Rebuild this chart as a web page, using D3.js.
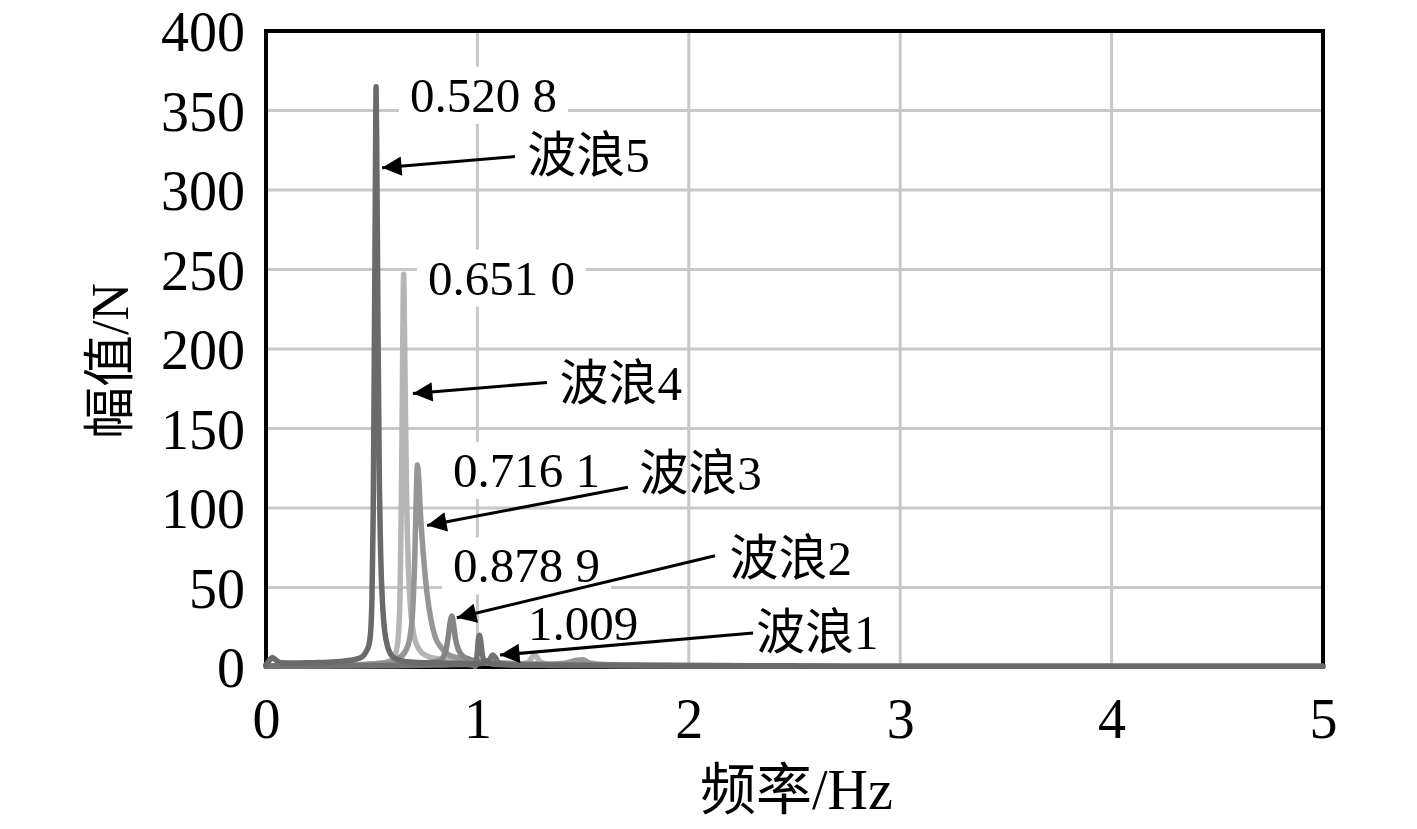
<!DOCTYPE html>
<html>
<head>
<meta charset="utf-8">
<script src="https://cdn.jsdelivr.net/npm/d3@7"></script>
<style>
  html, body { margin: 0; padding: 0; background: #fff; }
  svg { display: block; }
  text { font-family: "Liberation Serif", "Noto Sans CJK SC", serif; fill: #000; }
</style>
</head>
<body>
<svg id="chart" width="1417" height="829"></svg>
<script>
// ---------- data ----------
const xTicks = [0, 1, 2, 3, 4, 5];
const yTicks = [0, 50, 100, 150, 200, 250, 300, 350, 400];
const xTitle = "频率/Hz";
const yTitle = "幅值/N";

// wave 5 (peak 0.5208 Hz)
const wave5F = [0, 0.015, 0.03, 0.05, 0.07, 0.1, 0.15, 0.2, 0.25, 0.3, 0.35, 0.4, 0.44, 0.46, 0.475, 0.487, 0.495, 0.501, 0.507, 0.512, 0.517, 0.5208, 0.525, 0.53, 0.536, 0.543, 0.552, 0.562, 0.575, 0.59, 0.61, 0.64, 0.7, 0.8, 0.9, 1.0, 1.03, 1.045, 1.06, 1.1, 1.2, 1.4, 1.6, 1.8, 2.0, 2.5, 3.0, 3.5, 4.0, 4.5, 5.0];
const wave5A = [1.5, 4, 6, 4, 2.6, 2.5, 2.5, 2.6, 2.8, 3.0, 3.4, 4.2, 5.5, 7, 10, 14, 22, 42, 95, 190, 295, 365, 305, 210, 120, 68, 38, 22, 13, 8, 5.5, 4, 3, 2.6, 2.3, 2, 2.6, 4, 2.2, 1.5, 1.2, 1, 0.9, 0.8, 0.7, 0.6, 0.5, 0.5, 0.5, 0.5, 0.5];

// wave 4 (peak 0.6510 Hz)
const wave4F = [0, 0.1, 0.3, 0.45, 0.55, 0.59, 0.612, 0.625, 0.634, 0.641, 0.647, 0.651, 0.655, 0.66, 0.666, 0.673, 0.682, 0.692, 0.705, 0.725, 0.76, 0.8, 0.87, 0.95, 1.05, 1.2, 1.24, 1.27, 1.3, 1.35, 1.5, 2.0, 2.5];
const wave4A = [0.8, 0.8, 1.0, 1.5, 2.5, 4, 8, 18, 45, 110, 205, 247, 215, 155, 100, 64, 40, 26, 17, 11, 7, 5.5, 4.5, 3.5, 2.5, 2, 3, 7.5, 3, 1.8, 1.2, 0.9, 0.8];

// wave 3 (peak 0.7161 Hz)
const wave3F = [0, 0.2, 0.4, 0.55, 0.62, 0.66, 0.68, 0.695, 0.704, 0.711, 0.7161, 0.722, 0.73, 0.74, 0.75, 0.762, 0.78, 0.8, 0.83, 0.86, 0.9, 0.95, 1.0, 1.1, 1.2, 1.35, 1.42, 1.47, 1.5, 1.53, 1.6, 2.0, 2.5];
const wave3A = [0.8, 0.9, 1.2, 2.5, 5, 10, 18, 38, 70, 108, 127, 120, 98, 78, 62, 46, 30, 19, 12, 8, 6, 4.5, 3.5, 2.6, 2.1, 1.8, 2.5, 4.2, 4.5, 2.5, 1.5, 1.0, 0.8];

// wave 2 (peak 0.8789 Hz)
const wave2F = [0, 0.3, 0.6, 0.75, 0.82, 0.845, 0.86, 0.871, 0.8789, 0.886, 0.896, 0.91, 0.93, 0.96, 1.0, 1.05, 1.1, 1.3, 1.5, 1.8, 2.0, 2.5];
const wave2A = [0.7, 0.8, 1.5, 2.5, 4, 8, 17, 28, 32, 28, 18, 11, 7, 5, 3.5, 2.5, 2, 1.5, 1.2, 1.0, 0.9, 0.8];

// wave 1 (peak 1.009 Hz)
const wave1F = [0, 0.3, 0.6, 0.8, 0.9, 0.95, 0.98, 0.99, 0.995, 1.0, 1.004, 1.009, 1.015, 1.022, 1.032, 1.045, 1.06, 1.072, 1.085, 1.1, 1.15, 1.3, 1.6, 2.0, 2.5, 3.0, 3.5, 4.0, 4.5, 5.0];
const wave1A = [0.5, 0.6, 0.8, 1.2, 1.5, 1.6, 1.2, 0.3, 3, 10, 17, 20, 17, 9, 4, 3, 5, 7.5, 6, 2.5, 1.5, 1.1, 0.9, 0.7, 0.6, 0.5, 0.5, 0.5, 0.5, 0.5];

const seriesNames = ["波浪4", "波浪3", "波浪2", "波浪1", "波浪5"];
const seriesF = [wave4F, wave3F, wave2F, wave1F, wave5F];
const seriesA = [wave4A, wave3A, wave2A, wave1A, wave5A];
const seriesColors = ["#b5b5b5", "#969696", "#858585", "#727272", "#6a6a6a"];

// annotations (data units)
const peakLabels = ["0.520 8", "0.651 0", "0.716 1", "0.878 9", "1.009"];
const peakLabelF = [0.681, 0.766, 0.885, 0.885, 1.239];
const peakLabelA = [360, 245, 124, 64, 27.7];
const waveLabels = ["波浪5", "波浪4", "波浪3", "波浪2", "波浪1"];
const waveLabelF = [1.236, 1.388, 1.766, 2.192, 2.318];
const waveLabelA = [322, 178.6, 122, 68.6, 22];
const arrowTailF = [1.178, 1.329, 1.712, 2.124, 2.304];
const arrowTailA = [321, 179, 113, 70, 21.4];
const arrowTipF = [0.549, 0.695, 0.762, 0.903, 1.107];
const arrowTipA = [314, 172, 89, 31, 7.5];

// ---------- layout ----------
const svg = d3.select("#chart");
const W = 1417, H = 829;
const m = { left: 266, right: W - 1323, top: 31, bottom: H - 667 };
const x = d3.scaleLinear().domain([0, 5]).range([m.left, W - m.right]);
const y = d3.scaleLinear().domain([0, 400]).range([H - m.bottom, m.top]);

// grid
const grid = svg.append("g");
grid.selectAll("line.h").data(yTicks.filter(d => d > 0 && d < 400)).join("line")
  .attr("x1", x(0)).attr("x2", x(5)).attr("y1", d => y(d)).attr("y2", d => y(d))
  .attr("stroke", "#c8c8c8").attr("stroke-width", 3);
grid.selectAll("line.v").data(xTicks.filter(d => d > 0 && d < 5)).join("line")
  .attr("y1", y(0)).attr("y2", y(400)).attr("x1", d => x(d)).attr("x2", d => x(d))
  .attr("stroke", "#c8c8c8").attr("stroke-width", 3);

// frame
svg.append("rect")
  .attr("x", x(0)).attr("y", y(400))
  .attr("width", x(5) - x(0)).attr("height", y(0) - y(400))
  .attr("fill", "none").attr("stroke", "#000").attr("stroke-width", 4);

// peak label boxes (white, hiding grid)
const labelFont = 49;
const annG = svg.append("g");
const peakText = annG.selectAll("text.peak").data(peakLabels).join("text")
  .attr("class", "peak")
  .attr("x", (d, i) => x(peakLabelF[i]))
  .attr("y", (d, i) => y(peakLabelA[i]))
  .attr("dy", "0.35em")
  .attr("font-size", labelFont)
  .text(d => d);
peakText.each(function () {
  const b = this.getBBox();
  annG.insert("rect", "text")
    .attr("x", b.x - 11).attr("y", b.y - 1)
    .attr("width", b.width + 22).attr("height", b.height + 2)
    .attr("fill", "#fff");
});

// curves
const line = d3.line().x(d => x(d[0])).y(d => y(d[1])).curve(d3.curveMonotoneX);
const curveG = svg.append("g");
seriesNames.forEach((name, i) => {
  const pts = seriesF[i].map((f, j) => [f, seriesA[i][j]]);
  curveG.append("path").datum(pts)
    .attr("d", line)
    .attr("fill", "none")
    .attr("stroke", seriesColors[i])
    .attr("stroke-width", 5.5)
    .attr("stroke-linejoin", "round")
    .attr("stroke-linecap", "round");
});

// arrows
const defs = svg.append("defs");
defs.append("marker").attr("id", "arr")
  .attr("viewBox", "0 0 10 10").attr("refX", 10).attr("refY", 5)
  .attr("markerWidth", 8).attr("markerHeight", 6.5).attr("markerUnits", "strokeWidth")
  .attr("orient", "auto")
  .append("path").attr("d", "M0,0 L10,5 L0,10 Z").attr("fill", "#000");
const arrG = svg.append("g");
waveLabels.forEach((n, i) => {
  arrG.append("line")
    .attr("x1", x(arrowTailF[i])).attr("y1", y(arrowTailA[i]))
    .attr("x2", x(arrowTipF[i])).attr("y2", y(arrowTipA[i]))
    .attr("stroke", "#000").attr("stroke-width", 3)
    .attr("marker-end", "url(#arr)");
});

annG.raise();
arrG.raise();

// wave labels
svg.append("g").selectAll("text").data(waveLabels).join("text")
  .attr("x", (d, i) => x(waveLabelF[i]))
  .attr("y", (d, i) => y(waveLabelA[i]))
  .attr("dy", "0.35em")
  .attr("font-size", labelFont)
  .text(d => d);

// axes
const tickFont = 56;
const yAxis = svg.append("g").attr("transform", `translate(${x(0) - 21},0)`)
  .call(d3.axisLeft(y).tickValues(yTicks).tickSize(0).tickPadding(0).tickFormat(d3.format("d")));
yAxis.select(".domain").remove();
yAxis.selectAll("text").attr("font-size", tickFont).attr("font-family", "Liberation Serif").attr("dy", "0.35em").attr("fill", "#000");

const xAxis = svg.append("g").attr("transform", `translate(0,${y(0)})`)
  .call(d3.axisBottom(x).tickValues(xTicks).tickSize(0).tickPadding(31).tickFormat(d3.format("d")));
xAxis.select(".domain").remove();
xAxis.selectAll("text").attr("font-size", tickFont).attr("font-family", "Liberation Serif").attr("fill", "#000");

// titles
svg.append("text")
  .attr("x", (x(0) + x(5)) / 2 + 2).attr("y", 809)
  .attr("text-anchor", "middle").attr("font-size", 56)
  .text(xTitle);
svg.append("text")
  .attr("transform", `translate(128,${(y(0) + y(400)) / 2 + 12}) rotate(-90)`)
  .attr("text-anchor", "middle").attr("font-size", 52)
  .text(yTitle);
</script>
</body>
</html>
